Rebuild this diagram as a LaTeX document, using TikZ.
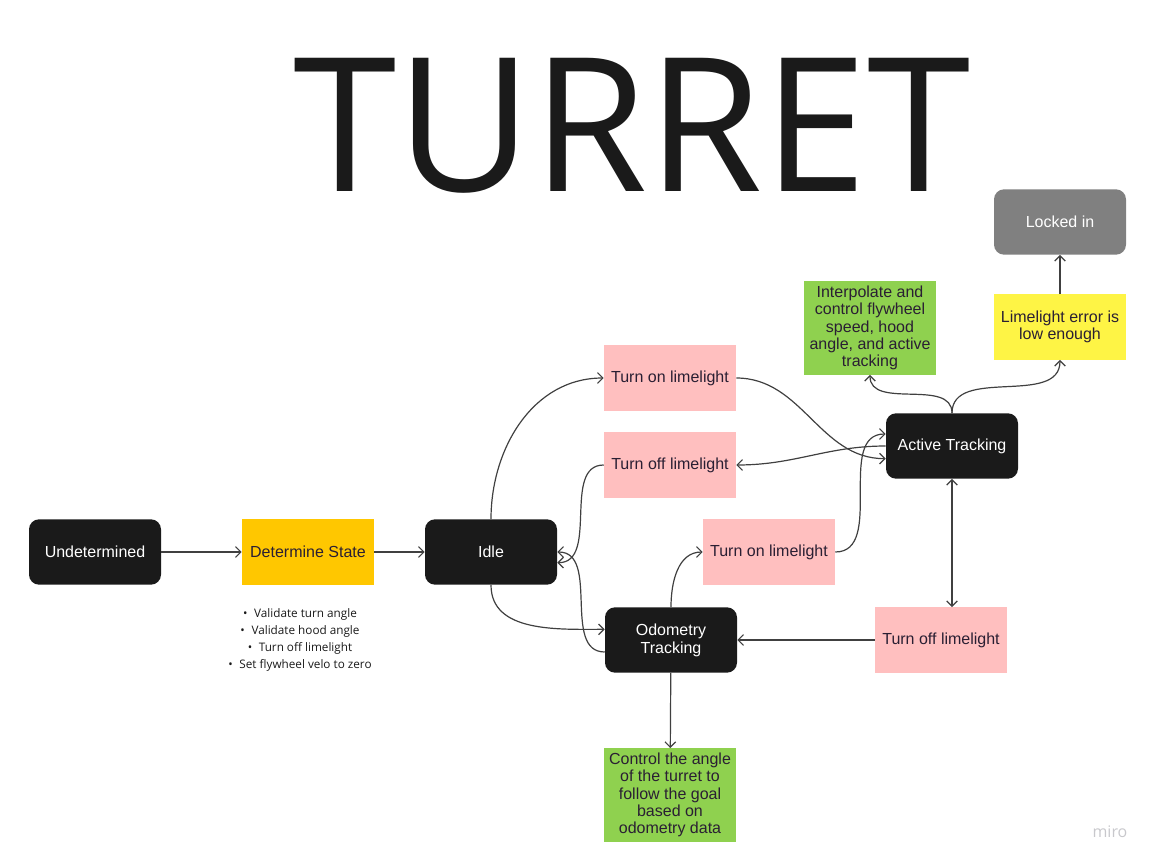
\documentclass[tikz,border=0pt]{standalone}
\usepackage{fontspec}
\setmainfont{Liberation Sans}
\newfontfamily\titlefont{Open Sans}
\usetikzlibrary{arrows.meta}
\definecolor{stateblack}{HTML}{1A1A1A}
\definecolor{lockgray}{HTML}{808080}
\definecolor{detyellow}{HTML}{FFC700}
\definecolor{erryellow}{HTML}{FEF445}
\definecolor{limepink}{HTML}{FFBFBF}
\definecolor{ctrlgreen}{HTML}{8FD14F}
\definecolor{inktext}{HTML}{2A1F33}
\definecolor{linegray}{HTML}{404040}
\definecolor{mirogray}{HTML}{C8C8CC}

\begin{document}
\begin{tikzpicture}[x=0.75pt,y=0.75pt,yscale=-1,xscale=1,
  state/.style={rectangle, rounded corners=7.5pt, fill=stateblack, text=white,
    minimum width=99pt, minimum height=49pt, inner sep=0pt, align=center,
    font=\fontsize{12}{13.5}\selectfont},
  action/.style={rectangle, fill=#1, text=inktext, minimum width=99pt,
    minimum height=49pt, inner sep=0pt, align=center,
    font=\fontsize{12}{13}\selectfont},
  flow/.style={draw=linegray, line width=0.9pt,
    -{Straight Barb[length=4pt,width=8pt]}}]
\useasboundingbox (0,0) rectangle (1154,866);

% title
\node [anchor=base, inner sep=0pt, text=stateblack,
  font=\titlefont\fontsize{140}{144}\selectfont] (title) at (632,192) {TURRET};

% states
\node [state] (undet) at (95,552) {Undetermined};
\node [action=detyellow] (determine) at (308,552) {Determine State};
\node [state] (idle) at (491,552) {Idle};
\node [action=limepink] (onA) at (670,378) {Turn on limelight};
\node [action=limepink] (offA) at (670,465) {Turn off limelight};
\node [action=limepink] (onB) at (769,552) {Turn on limelight};
\node [state] (odom) at (671,640) {Odometry\\Tracking};
\node [action=limepink] (offB) at (941,640) {Turn off limelight};
\node [state] (active) at (952,446) {Active Tracking};
\node [action=ctrlgreen, minimum height=70pt] (interp) at (870,328)
  {Interpolate and\\control flywheel\\speed, hood\\angle, and active\\tracking};
\node [action=erryellow] (llerr) at (1060,327) {Limelight error is\\low enough};
\node [state, fill=lockgray] (locked) at (1060,222) {Locked in};
\node [action=ctrlgreen, minimum height=70pt] (control) at (670,795)
  {Control the angle\\of the turret to\\follow the goal\\based on\\odometry data};

% checklist under determine state
\node [align=center, text=stateblack, inner sep=0pt,
  font=\titlefont\fontsize{8.8}{12.75}\selectfont] (checks) at (300,640)
  {•\hspace{5pt}Validate turn angle\\•\hspace{5pt}Validate hood angle\\
   •\hspace{5pt}Turn off limelight\\•\hspace{5pt}Set flywheel velo to zero};

% connectors (angles flipped because of yscale=-1)
\draw [flow] (undet) -- (determine);
\draw [flow] (determine) -- (idle);
\draw [flow] (idle.north) to[out=-90,in=180] (onA.west);
\draw [flow] (offA.west) to[out=180,in=0] ([yshift=8pt]idle.east);
\draw [flow] ([yshift=9pt]odom.west) to[out=180,in=0] (idle.east);
\draw [flow] (idle.south) to[out=90,in=180] ([yshift=-8pt]odom.west);
\draw [flow] (odom.north) to[out=-90,in=180] (onB.west);
\draw [flow] (onB.east) to[out=0,in=180] ([yshift=-9pt]active.west);
\draw [flow] (onA.east) to[out=0,in=180] ([yshift=9.5pt]active.west);
\draw [flow] (active.west) to[out=180,in=0] (offA.east);
\draw [flow, {Straight Barb[length=4pt,width=8pt]}-{Straight Barb[length=4pt,width=8pt]}]
  (active.south) -- (active.south |- offB.north);
\draw [flow] (offB) -- (odom);
\draw [flow] (odom) -- (control);
\draw [flow] (active.north) to[out=-90,in=90] (interp.south);
\draw [flow] (active.north) to[out=-90,in=90] (llerr.south);
\draw [flow] (llerr) -- (locked);

% watermark
\node [text=mirogray, font=\titlefont\fontsize{12}{12}\selectfont] (miro) at (1110,832) {miro};
\end{tikzpicture}
\end{document}
